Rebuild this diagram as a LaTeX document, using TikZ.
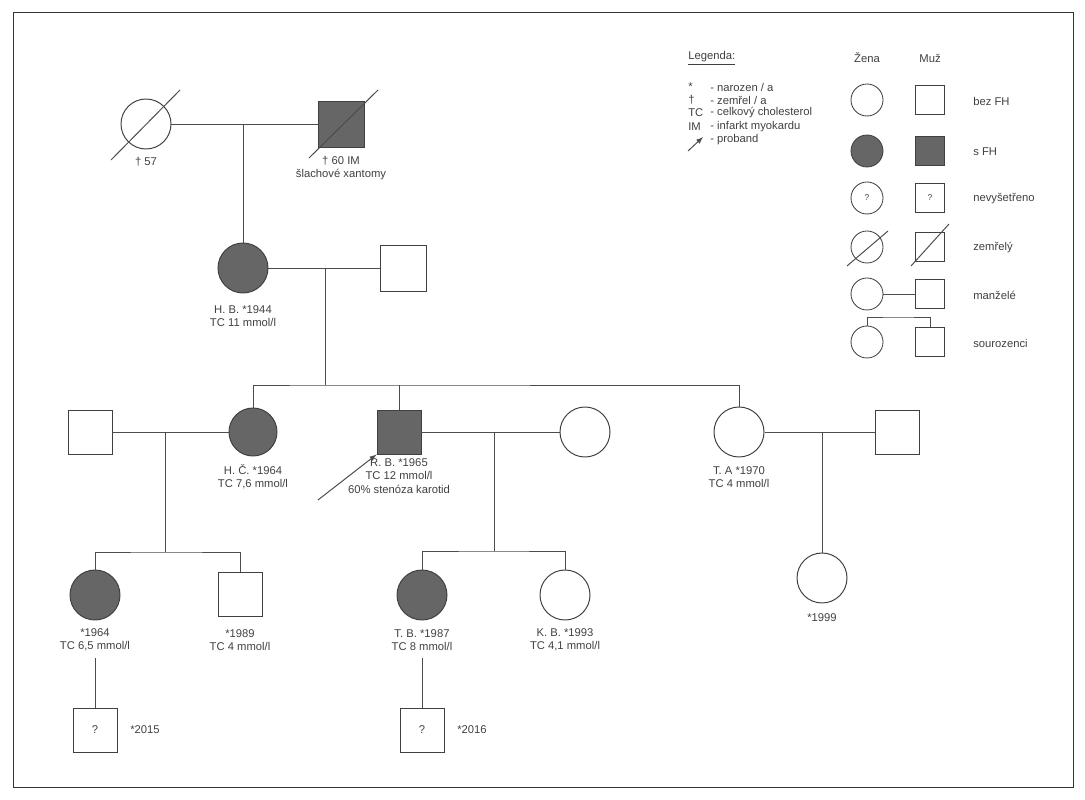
\documentclass[tikz,border=0pt]{standalone}
\usepackage{fontspec}
\setmainfont{Liberation Sans}
\begin{document}
\begin{tikzpicture}[x=0.025cm,y=-0.025cm,
  every node/.style={font=\fontsize{8}{9.5}\selectfont, text=black!75},
  ln/.style={draw=black!70, line width=0.7pt},
  fem/.style={circle, draw=black!75, line width=0.7pt, minimum size=50*0.025cm, inner sep=0pt},
  mal/.style={rectangle, draw=black!75, line width=0.7pt, minimum size=46*0.025cm, inner sep=0pt},
  lfem/.style={circle, draw=black!75, line width=0.6pt, minimum size=32*0.025cm, inner sep=0pt},
  lmal/.style={rectangle, draw=black!75, line width=0.6pt, minimum size=29*0.025cm, inner sep=0pt},
  fh/.style={fill=black!60},
  lab/.style={align=center, inner sep=0pt},
  txt/.style={anchor=west, inner sep=0pt}]
\useasboundingbox (0,0) rectangle (1085,800);
\draw[black!80, line width=0.6pt] (13,12) rectangle (1073,787);
% generation I
\node[fem] (gm) at (146,124) {};
\node[mal, fh] (gf) at (341,124) {};
\draw[ln] (111,160) -- (180,90);
\draw[ln] (309,158) -- (378,90);
\draw[ln] (gm) -- (gf);
\coordinate (c1) at (243,124);
\node[lab] at (146,162) {† 57};
\node[lab] at (341,168) {† 60 IM\\šlachové xantomy};
% generation II
\node[fem, fh] (hb) at (243,268) {};
\node[mal] (hbs) at (403,268) {};
\draw[ln] (c1) -- (hb);
\draw[ln] (hb) -- (hbs);
\node[lab] at (243,316) {H. B. *1944\\TC 11 mmol/l};
\coordinate (c2) at (325,268);
\coordinate (c2b) at (325,385);
\draw[ln] (c2) -- (c2b);
% generation III
\node[fem, fh, minimum size=48*0.025cm] (hc) at (253,432) {};
\node[mal, fh, minimum size=44*0.025cm] (rb) at (399,432) {};
\node[fem] (ta) at (739,432) {};
\draw[ln] (hc.north) |- (c2b) -| (ta.north);
\draw[ln] (rb.north) -- (399,385);
\node[mal, minimum size=44*0.025cm] (hcs) at (90,432) {};
\node[fem] (rbs) at (585,432) {};
\node[mal, minimum size=44*0.025cm] (tas) at (897,432) {};
\draw[ln] (hcs) -- (hc);
\draw[ln] (rb) -- (rbs);
\draw[ln] (ta) -- (tas);
\node[lab] at (253,477) {H. Č. *1964\\TC 7,6 mmol/l};
\node[lab] at (399,476) {R. B. *1965\\TC 12 mmol/l\\60\% stenóza karotid};
\node[lab] at (739,477) {T. A *1970\\TC 4 mmol/l};
\coordinate (pa) at (318,500);
\draw[ln, ->, >=latex] (pa) -- (rb.south west);
% generation IV
\coordinate (c3) at (165,432); \coordinate (c3b) at (165,552);
\coordinate (c4) at (494,432); \coordinate (c4b) at (494,551);
\coordinate (c5) at (822,432);
\draw[ln] (c3) -- (c3b);
\draw[ln] (c4) -- (c4b);
\node[fem, fh] (d1) at (95,595) {};
\node[mal, minimum size=44*0.025cm] (d2) at (240,594) {};
\node[fem, fh] (d3) at (422,595) {};
\node[fem] (d4) at (565,595) {};
\node[fem] (d5) at (822,578) {};
\draw[ln] (d1.north) |- (c3b) -| (d2.north);
\draw[ln] (d3.north) |- (c4b) -| (d4.north);
\draw[ln] (c5) -- (d5);
\node[lab] (l1) at (95,640) {*1964\\TC 6,5 mmol/l};
\node[lab] at (240,640) {*1989\\TC 4 mmol/l};
\node[lab] (l3) at (422,640) {T. B. *1987\\TC 8 mmol/l};
\node[lab] at (565,640) {K. B. *1993\\TC 4,1 mmol/l};
\node[lab] at (822,618) {*1999};
% generation V
\node[mal, minimum size=44*0.025cm] (e1) at (95,730) {?};
\node[mal, minimum size=44*0.025cm] (e2) at (422,730) {?};
\draw[ln] (95,658) -- (e1);
\draw[ln] (422,658) -- (e2);
\node[lab] at (145,730) {*2015};
\node[lab] at (472,730) {*2016};
% legend
\node[txt] at (688,58) {\underline{Legenda:}};
\node[txt] at (688,87) {*}; \node[txt] at (710,87) {- narozen / a};
\node[txt] at (688,100) {†}; \node[txt] at (710,100) {- zemřel / a};
\node[txt] at (688,113) {TC}; \node[txt] at (710,113) {- celkový cholesterol};
\node[txt] at (688,127) {IM}; \node[txt] at (710,127) {- infarkt myokardu};
\coordinate (la) at (688,151);
\draw[ln, ->, >=latex] (la) -- (703,137);
\node[txt] at (710,140) {- proband};
\node[lab] at (867,58) {Žena};
\node[lab] at (930,58) {Muž};
\node[lfem] at (867,100) {}; \node[lmal] at (930,100) {};
\node[lfem, fh] at (867,151) {}; \node[lmal, fh] at (930,151) {};
\node[lfem, font=\fontsize{6}{7}\selectfont] at (867,198) {?};
\node[lmal, font=\fontsize{6}{7}\selectfont] at (930,198) {?};
\node[lfem] at (867,247) {}; \node[lmal] at (930,247) {};
\draw[ln] (847,266) -- (888,231);
\draw[ln] (911,266) -- (949,224);
\node[lfem] (m1) at (867,294) {}; \node[lmal] (m2) at (930,294) {};
\draw[ln] (m1) -- (m2);
\node[lfem] (s1) at (867,342) {}; \node[lmal] (s2) at (930,342) {};
\draw[ln] (s1.north) |- (898,317) -| (s2.north);
\node[txt] at (973,101) {bez FH};
\node[txt] at (973,152) {s FH};
\node[txt] at (973,199) {nevyšetřeno};
\node[txt] at (973,248) {zemřelý};
\node[txt] at (973,295) {manželé};
\node[txt] at (973,343) {sourozenci};
\end{tikzpicture}
\end{document}
